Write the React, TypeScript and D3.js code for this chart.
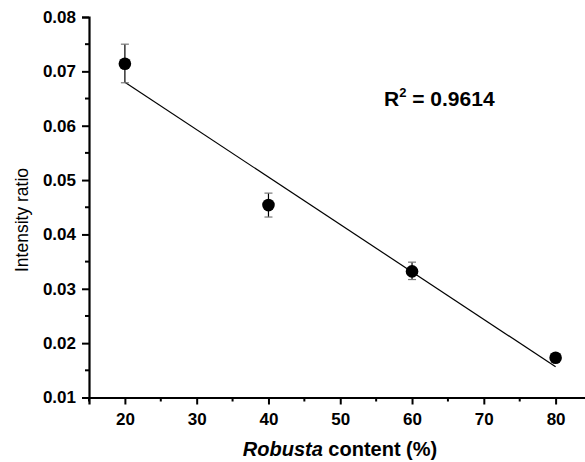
import React, { useEffect, useRef } from "react";
import * as d3 from "d3";

const WIDTH = 585;
const HEIGHT = 462;
const MARGIN = { top: 17, right: 0, bottom: 65, left: 89 };

const robustaContent = [20, 40, 60, 80];
const intensityRatio = [0.0714, 0.0454, 0.0332, 0.0173];
const errorUpper = [0.075, 0.0476, 0.0349, 0.0176];
const errorLower = [0.0679, 0.0432, 0.0317, 0.017];
const xTicks = [20, 30, 40, 50, 60, 70, 80];
const yTicks = [0.01, 0.02, 0.03, 0.04, 0.05, 0.06, 0.07, 0.08];
const R2_LABEL = "0.9614";

const FONT = "Arial, 'Liberation Sans', sans-serif";

const App = () => {
  const svgRef = useRef<SVGSVGElement>(null);

  useEffect(() => {
    const svgEl = d3.select(svgRef.current);
    svgEl.selectAll("*").remove();

    const x = d3.scaleLinear().domain([15, 85]).range([MARGIN.left, 591.5]);
    const y = d3
      .scaleLinear()
      .domain([0.01, 0.08])
      .range([HEIGHT - MARGIN.bottom + 0.5, MARGIN.top]);

    const plotBottom = y(0.01);

    // minor ticks
    const xMinor = xTicks.map((t) => t + 5).concat([15]).filter((t) => t < 85);
    const yMinor = yTicks.map((t) => t + 0.005).filter((t) => t < 0.08);

    const xAxis = d3
      .axisBottom(x)
      .tickValues(xTicks)
      .tickSize(7)
      .tickPadding(8)
      .tickFormat(d3.format("d"));
    const gx = svgEl
      .append("g")
      .attr("transform", `translate(0,${plotBottom})`)
      .call(xAxis);
    gx.select(".domain").attr("stroke-width", 2.2);
    gx.selectAll(".tick line").attr("stroke-width", 2);

    svgEl
      .append("g")
      .selectAll("line")
      .data(xMinor)
      .join("line")
      .attr("x1", (d) => x(d))
      .attr("x2", (d) => x(d))
      .attr("y1", plotBottom)
      .attr("y2", plotBottom + 4)
      .attr("stroke", "#000")
      .attr("stroke-width", 2);

    const yAxis = d3
      .axisLeft(y)
      .tickValues(yTicks)
      .tickSize(7)
      .tickPadding(6)
      .tickFormat(d3.format(".2f"));
    const gy = svgEl
      .append("g")
      .attr("transform", `translate(${MARGIN.left},0)`)
      .call(yAxis);
    gy.select(".domain").attr("stroke-width", 2.2);
    gy.selectAll(".tick line").attr("stroke-width", 2);

    svgEl
      .append("g")
      .selectAll("line")
      .data(yMinor)
      .join("line")
      .attr("x1", MARGIN.left)
      .attr("x2", MARGIN.left - 4)
      .attr("y1", (d) => y(d))
      .attr("y2", (d) => y(d))
      .attr("stroke", "#000")
      .attr("stroke-width", 2);

    svgEl.selectAll("g").attr("font-size", null).attr("font-family", null);
    svgEl
      .selectAll(".tick text")
      .attr("font-family", FONT)
      .attr("font-size", 17)
      .attr("font-weight", "bold")
      .attr("fill", "#000");

    // linear fit
    const xMean = d3.mean(robustaContent)!;
    const yMean = d3.mean(intensityRatio)!;
    const slope =
      d3.sum(robustaContent, (xv, i) => (xv - xMean) * (intensityRatio[i] - yMean)) /
      d3.sum(robustaContent, (xv) => (xv - xMean) ** 2);
    const intercept = yMean - slope * xMean;
    const x0 = d3.min(robustaContent)!;
    const x1 = d3.max(robustaContent)!;

    svgEl
      .append("line")
      .attr("x1", x(x0))
      .attr("y1", y(intercept + slope * x0))
      .attr("x2", x(x1))
      .attr("y2", y(intercept + slope * x1))
      .attr("stroke", "#000")
      .attr("stroke-width", 1.2);

    // error bars
    const bars = svgEl
      .append("g")
      .selectAll("g")
      .data(robustaContent)
      .join("g");
    bars
      .append("line")
      .attr("x1", (d) => x(d))
      .attr("x2", (d) => x(d))
      .attr("y1", (d, i) => y(errorUpper[i]))
      .attr("y2", (d, i) => y(errorLower[i]))
      .attr("stroke", "#000")
      .attr("stroke-width", 1.2);
    [errorUpper, errorLower].forEach((arr) => {
      bars
        .append("line")
        .attr("x1", (d) => x(d) - 4)
        .attr("x2", (d) => x(d) + 4)
        .attr("y1", (d, i) => y(arr[i]))
        .attr("y2", (d, i) => y(arr[i]))
        .attr("stroke", "#777")
        .attr("stroke-width", 1.2);
    });

    svgEl
      .append("g")
      .selectAll("circle")
      .data(robustaContent)
      .join("circle")
      .attr("cx", (d) => x(d))
      .attr("cy", (d, i) => y(intensityRatio[i]))
      .attr("r", 6.3)
      .attr("fill", "#000");

    // R^2 annotation
    const r2 = svgEl
      .append("text")
      .attr("x", 384)
      .attr("y", 106)
      .attr("font-family", FONT)
      .attr("font-size", 21)
      .attr("font-weight", "bold")
      .attr("fill", "#000");
    r2.append("tspan").text("R");
    r2.append("tspan")
      .attr("font-size", 13)
      .attr("dy", -9)
      .text("2");
    r2.append("tspan")
      .attr("dy", 9)
      .text(` = ${R2_LABEL}`);

    // axis titles
    const xt = svgEl
      .append("text")
      .attr("x", 340)
      .attr("y", 456)
      .attr("text-anchor", "middle")
      .attr("font-family", FONT)
      .attr("font-size", 20)
      .attr("font-weight", "bold")
      .attr("fill", "#000");
    xt.append("tspan").attr("font-style", "italic").text("Robusta");
    xt.append("tspan").text(" content (%)");

    svgEl
      .append("text")
      .attr("transform", `translate(28,220) rotate(-90)`)
      .attr("text-anchor", "middle")
      .attr("font-family", FONT)
      .attr("font-size", 17.5)
      .attr("fill", "#000")
      .text("Intensity ratio");
  }, []);

  return (
    <svg
      ref={svgRef}
      width={WIDTH}
      height={HEIGHT}
      style={{ position: "absolute", left: 0, top: 0, background: "#fff" }}
    />
  );
};

export default App;
